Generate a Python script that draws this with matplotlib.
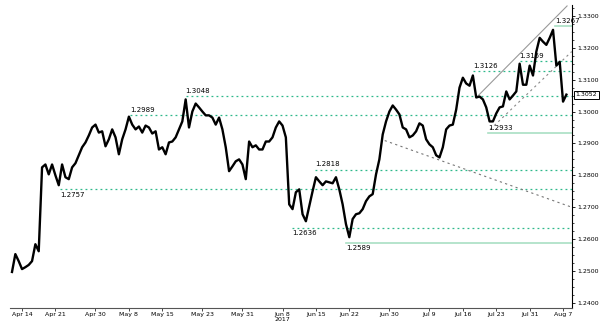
import numpy as np
import matplotlib.pyplot as plt

# half-day closes, first point 1.5 trading days before Apr 14 2017
start_day = -1.5
step = 0.5
closes = [
    1.2497, 1.2553, 1.2531, 1.2506, 1.2512, 1.2519, 1.2531, 1.2584, 1.2562, 1.2825,
    1.2834, 1.2803, 1.2834, 1.2800, 1.2769, 1.2834, 1.2794, 1.2788, 1.2825, 1.2838,
    1.2863, 1.2888, 1.2903, 1.2925, 1.2950, 1.2959, 1.2934, 1.2938, 1.2891, 1.2913,
    1.2944, 1.2919, 1.2866, 1.2913, 1.2944, 1.2984, 1.2959, 1.2944, 1.2953, 1.2934,
    1.2956, 1.2950, 1.2931, 1.2938, 1.2881, 1.2888, 1.2866, 1.2903, 1.2906, 1.2919,
    1.2944, 1.2969, 1.3038, 1.2950, 1.3000, 1.3025, 1.3013, 1.3000, 1.2988, 1.2988,
    1.2981, 1.2959, 1.2981, 1.2944, 1.2888, 1.2813, 1.2828, 1.2844, 1.2850, 1.2834,
    1.2788, 1.2906, 1.2888, 1.2894, 1.2881, 1.2881, 1.2906, 1.2906, 1.2919, 1.2950,
    1.2969, 1.2956, 1.2919, 1.2709, 1.2694, 1.2747, 1.2756, 1.2678, 1.2656, 1.2703,
    1.2750, 1.2794, 1.2781, 1.2769, 1.2781, 1.2778, 1.2775, 1.2794, 1.2756, 1.2709,
    1.2647, 1.2606, 1.2663, 1.2678, 1.2681, 1.2694, 1.2719, 1.2734, 1.2741, 1.2803,
    1.2850, 1.2928, 1.2969, 1.3000, 1.3019, 1.3006, 1.2991, 1.2950, 1.2944, 1.2919,
    1.2925, 1.2938, 1.2963, 1.2956, 1.2913, 1.2897, 1.2888, 1.2863, 1.2856, 1.2888,
    1.2944, 1.2956, 1.2959, 1.3006, 1.3075, 1.3106, 1.3088, 1.3081, 1.3113, 1.3044,
    1.3047, 1.3038, 1.3013, 1.2969, 1.2969, 1.2994, 1.3013, 1.3016, 1.3063, 1.3038,
    1.3050, 1.3063, 1.3150, 1.3084, 1.3084, 1.3144, 1.3113, 1.3188, 1.3231, 1.3219,
    1.3209, 1.3231, 1.3256, 1.3144, 1.3156, 1.3031, 1.3053,
]
last_price = 1.3052

# marked highs / lows: value, start day, line style, label side
levels = [1.2757, 1.2989, 1.3048, 1.2636, 1.2818, 1.2589, 1.3126, 1.3159, 1.2933, 1.3267]
level_start = [5.7, 16.2, 24.5, 40.4, 43.9, 48.5, 67.5, 74.5, 69.8, 79.8]
level_solid = [False, False, False, False, False, True, False, False, True, True]
label_below = [True, False, False, True, False, True, False, False, False, False]

# trend lines (day, price)
down_line = ([54.3, 82.3], [1.2909, 1.2700])
upper_channel = ([68.3, 81.6], [1.3050, 1.3331])
lower_channel = ([70.1, 82.3], [1.2944, 1.3188])

tick_dates = ['2017-04-14', '2017-04-21', '2017-04-30', '2017-05-08', '2017-05-15',
              '2017-05-23', '2017-05-31', '2017-06-08', '2017-06-15', '2017-06-22',
              '2017-06-30', '2017-07-09', '2017-07-16', '2017-07-23', '2017-07-31',
              '2017-08-07']
tick_labels = ['Apr 14', 'Apr 21', 'Apr 30', 'May 8', 'May 15', 'May 23', 'May 31',
               'Jun 8\n2017', 'Jun 15', 'Jun 22', 'Jun 30', 'Jul 9', 'Jul 16', 'Jul 23',
               'Jul 31', 'Aug 7']
y_ticks = [1.24, 1.25, 1.26, 1.27, 1.28, 1.29, 1.30, 1.31, 1.32, 1.33]

days = start_day + step * np.arange(len(closes))
tick_pos = [np.busday_count('2017-04-14', d) for d in tick_dates]

fig = plt.figure(figsize=(6, 3.25), dpi=100)
ax = fig.add_axes([10 / 600, 17 / 325, 562 / 600, 303 / 325])

dot_col = '#2db88a'
solid_col = '#a9dfc4'
for lv, x0, solid, below in zip(levels, level_start, level_solid, label_below):
    if solid:
        ax.plot([x0, 83], [lv, lv], color=solid_col, lw=1.2, zorder=1)
    else:
        ax.plot([x0, 83], [lv, lv], color=dot_col, lw=0.9, ls=(0, (1.5, 2.5)), zorder=1)
    ax.annotate(f'{lv:.4f}', (x0, lv), xytext=(0, -2 if below else 1.5),
                textcoords='offset points', fontsize=5, ha='left',
                va='top' if below else 'bottom', zorder=4)

ax.plot(*down_line, color='#777777', lw=0.8, ls=(0, (2, 3)), zorder=1)
ax.plot(*upper_channel, color='#999999', lw=0.8, zorder=1)
ax.plot(*lower_channel, color='#888888', lw=0.8, ls=(0, (2, 3)), zorder=1)

ax.plot(days, closes, color='black', lw=1.7, zorder=3)

ax.set_xlim(-1.8, 82.34)
ax.set_ylim(1.2384, 1.3334)

for s in ['top', 'left']:
    ax.spines[s].set_visible(False)
ax.spines['right'].set_linewidth(0.8)
ax.spines['bottom'].set_linewidth(0.8)
ax.spines['bottom'].set_color('#555555')

ax.yaxis.tick_right()
ax.set_yticks(y_ticks)
ax.set_yticklabels([f'{v:.4f}' for v in y_ticks])
ax.set_yticks(np.arange(1.2400, 1.3330, 0.0025), minor=True)
ax.tick_params(axis='y', which='major', length=2.5, width=0.6, labelsize=4.5, pad=1)
ax.tick_params(axis='y', which='minor', length=1.5, width=0.5)

ax.set_xticks(tick_pos)
ax.set_xticklabels(tick_labels, linespacing=0.85)
ax.tick_params(axis='x', length=2, width=0.5, labelsize=4.5, pad=1)

ax.annotate(f'{last_price:.4f}', (1, last_price), xycoords=('axes fraction', 'data'),
            xytext=(2.5, 0), textcoords='offset points', fontsize=4.5, va='center',
            ha='left', bbox=dict(boxstyle='square,pad=0.25', fc='white', ec='black', lw=0.7),
            annotation_clip=False, zorder=5)

fig.savefig('out.png', dpi=100)
